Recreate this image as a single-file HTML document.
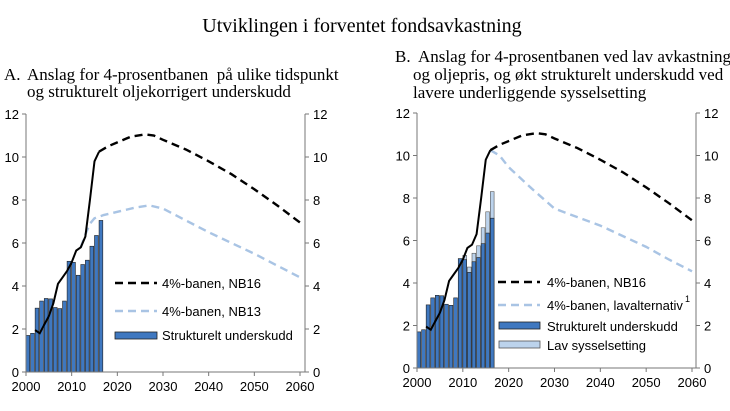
<!DOCTYPE html>
<html><head><meta charset="utf-8"><style>
body{margin:0;background:#fff;}
svg{display:block;}
.t{font-family:"Liberation Serif",serif;fill:#000;}
.k{font-family:"Liberation Sans",sans-serif;font-size:13px;fill:#000;}
</style></head><body>
<svg id="s" width="730" height="411" xmlns="http://www.w3.org/2000/svg">
<text class="t" x="362" y="32" font-size="20" text-anchor="middle">Utviklingen i forventet fondsavkastning</text>
<text class="t" x="4" y="80" font-size="17">A.</text>
<text class="t" x="27" y="80" font-size="17" xml:space="preserve">Anslag for 4-prosentbanen  på ulike tidspunkt</text>
<text class="t" x="27" y="97" font-size="17">og strukturelt oljekorrigert underskudd</text>
<text class="t" x="395" y="62" font-size="17">B.</text>
<text class="t" x="418" y="62" font-size="17">Anslag for 4-prosentbanen ved lav avkastning</text>
<text class="t" x="413" y="80" font-size="17">og oljepris, og økt strukturelt underskudd ved</text>
<text class="t" x="413" y="98" font-size="17">lavere underliggende sysselsetting</text>
</svg>
<script>
const S=document.getElementById('s');const NS='http://www.w3.org/2000/svg';
function el(n,a,t){const e=document.createElementNS(NS,n);for(const k in a)e.setAttribute(k,a[k]);if(t!==undefined)e.textContent=t;S.appendChild(e);return e;}
const bars=[1.7,1.8,2.97,3.3,3.42,3.4,3.0,2.95,3.3,5.15,5.1,4.5,5.0,5.2,5.85,6.35,7.05];
const lav={2010:5.3,2011:4.75,2012:5.4,2013:5.75,2014:6.6,2015:7.35,2016:8.3};
const solid=[[2002,1.95],[2003,1.8],[2004,2.2],[2005,2.6],[2006,3.2],[2007,4.1],[2008,4.4],[2009,4.7],[2010,5.1],[2011,5.65],[2012,5.8],[2013,6.3],[2014,8.0],[2015,9.8],[2016,10.25]];
const nb16=[[2016,10.25],[2018,10.5],[2020,10.68],[2023,10.95],[2026,11.05],[2028,11.0],[2030,10.8],[2035,10.35],[2040,9.8],[2045,9.2],[2050,8.5],[2055,7.75],[2060,6.95]];
const nb13=[[2012,5.8],[2013,6.4],[2014,6.9],[2015,7.15],[2017,7.3],[2020,7.45],[2024,7.65],[2027,7.75],[2030,7.6],[2035,7.05],[2040,6.5],[2045,6.0],[2050,5.5],[2055,4.95],[2060,4.4]];
const lv=[[2016,10.25],[2018,10.0],[2020,9.45],[2025,8.45],[2030,7.5],[2035,7.1],[2040,6.7],[2045,6.2],[2050,5.7],[2055,5.1],[2060,4.55]];
function panel(x0,x60,xr,y12,y0,B){
 const X=y=>x0+(y-2000)*(x60-x0)/60, Y=v=>y0-v*(y0-y12)/12;
 const bw=(x60-x0)/60*0.82;
 bars.forEach((v,i)=>{const yr=2000+i;
  if(B&&lav[yr])el('rect',{x:X(yr),y:Y(lav[yr]),width:bw,height:Y(0)-Y(lav[yr]),fill:'#bcd3ec',stroke:'#555','stroke-width':0.6});
  el('rect',{x:X(yr),y:Y(v),width:bw,height:Y(0)-Y(v),fill:'#3f78c0',stroke:'#222','stroke-width':0.6});});
 const pl=(d,c,da,w)=>el('polyline',{points:d.map(p=>X(p[0])+','+Y(p[1])).join(' '),fill:'none',stroke:c,'stroke-width':w||2.4,'stroke-dasharray':da||'none'});
 pl(B?lv:nb13,'#a9c4e4','8,5');
 pl(nb16,'#000','8,5');
 pl(solid,'#000',null,2);
 el('line',{x1:x0,y1:y12,x2:x0,y2:y0,stroke:'#777','stroke-width':1});
 el('line',{x1:xr,y1:y12,x2:xr,y2:y0,stroke:'#777','stroke-width':1});
 el('line',{x1:x0,y1:y0,x2:xr,y2:y0,stroke:'#777','stroke-width':1});
 for(let v=0;v<=12;v+=2){const y=Y(v);
  el('line',{x1:x0-4,y1:y,x2:x0,y2:y,stroke:'#777'});el('line',{x1:xr,y1:y,x2:xr+4,y2:y,stroke:'#777'});
  el('text',{class:'k',x:x0-7,y:y+5,'text-anchor':'end'},v);el('text',{class:'k',x:xr+8,y:y+5},v);}
 for(let yr=2000;yr<=2060;yr+=10){const x=X(yr);el('line',{x1:x,y1:y0,x2:x,y2:y0+4,stroke:'#777'});
  el('text',{class:'k',x:x,y:y0+19,'text-anchor':'middle'},yr);}
}
panel(26,300,305,114,372,false);
panel(417,692,696,113,368,true);
el('line',{x1:115,y1:283,x2:157,y2:283,stroke:'#000','stroke-width':2.4,'stroke-dasharray':'8,5'});
el('text',{class:'k',x:162,y:288},'4%-banen, NB16');
el('line',{x1:115,y1:311,x2:157,y2:311,stroke:'#a9c4e4','stroke-width':2.4,'stroke-dasharray':'8,5'});
el('text',{class:'k',x:162,y:316},'4%-banen, NB13');
el('rect',{x:115,y:332,width:42,height:7,fill:'#3f78c0',stroke:'#222','stroke-width':0.8});
el('text',{class:'k',x:162,y:340},'Strukturelt underskudd');
el('line',{x1:498,y1:282,x2:540,y2:282,stroke:'#000','stroke-width':2.4,'stroke-dasharray':'8,5'});
el('text',{class:'k',x:547,y:287},'4%-banen, NB16');
el('line',{x1:498,y1:305,x2:540,y2:305,stroke:'#a9c4e4','stroke-width':2.4,'stroke-dasharray':'8,5'});
el('text',{class:'k',x:547,y:310},'4%-banen, lavalternativ');
el('text',{class:'k',x:685,y:302,style:'font-size:9px'},'1');
el('rect',{x:499,y:322,width:41,height:7,fill:'#3f78c0',stroke:'#222','stroke-width':0.8});
el('text',{class:'k',x:547,y:331},'Strukturelt underskudd');
el('rect',{x:499,y:341,width:41,height:7,fill:'#bcd3ec',stroke:'#555','stroke-width':0.8});
el('text',{class:'k',x:547,y:350},'Lav sysselsetting');
</script>
</body></html>
